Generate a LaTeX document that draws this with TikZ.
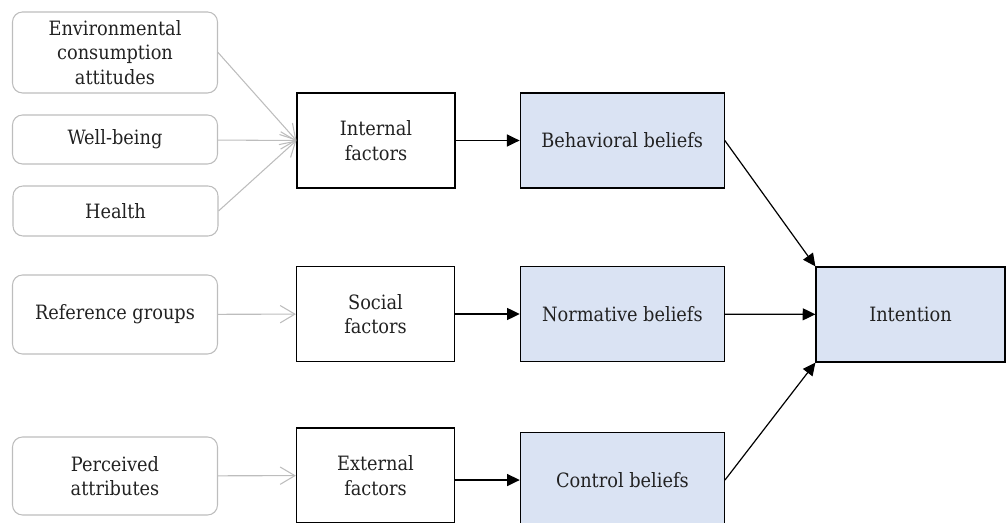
\documentclass[tikz,border=0pt]{standalone}
\usepackage{fontspec}
\setmainfont{DejaVu Serif Condensed}
\usetikzlibrary{arrows.meta, positioning}

\definecolor{beliefblue}{HTML}{DAE3F3}
\definecolor{srcgray}{HTML}{BDBDBD}
\definecolor{txtgray}{HTML}{222222}

\begin{document}
\begin{tikzpicture}[x=0.75pt, y=-0.75pt,
  font=\fontsize{14.8}{18.4}\selectfont, text=txtgray,
  src/.style={draw=srcgray, line width=0.8pt, rounded corners=7.5pt, align=center,
    inner sep=0pt, minimum width=153.75pt},
  factor/.style={draw, line width=0.9pt, fill=white, align=center, inner sep=0pt,
    minimum width=118.5pt, minimum height=71.25pt},
  belief/.style={draw, line width=0.9pt, fill=beliefblue, align=center, inner sep=0pt,
    minimum width=153pt, minimum height=71.25pt},
  garrow/.style={draw=srcgray, line width=0.8pt, -{Straight Barb[length=11pt, width=13pt]}},
  barrow/.style={line width=0.9pt, -{Triangle[length=9.5pt, width=9pt]}}]
\useasboundingbox (0,0) rectangle (1006,523);
\clip (0,0) rectangle (1006,523);

% sources
\node[src, minimum height=60.75pt] (env) at (115,52.5) {Environmental\\consumption\\attitudes};
\node[src, minimum height=36.75pt] (well) at (115,139.5) {Well-being};
\node[src, minimum height=37.5pt] (health) at (115.5,211) {Health};
\node[src, minimum height=59.25pt] (ref) at (115,314.5) {Reference groups};
\node[src, minimum height=58.5pt] (perc) at (115,476) {Perceived\\attributes};

% factors
\node[factor] (internal) at (376,140.5) {Internal\\factors};
\node[factor] (social) at (375.5,314) {Social\\factors};
\node[factor] (external) at (375.5,475.5) {External\\factors};

% beliefs
\node[belief, right=48pt of internal] (behav) {Behavioral beliefs};
\node[belief, right=48.5pt of social] (norm) {Normative beliefs};
\node[belief, right=48.5pt of external, yshift=-3.4pt] (control) {Control beliefs};
\node[belief, minimum width=141.75pt] (intent) at (910.5,314.5) {Intention};

\draw[garrow] (env.east) -- (internal.west);
\draw[garrow] (well) -- (internal.west);
\draw[garrow] (health.east) -- (internal.west);
\draw[garrow] (ref) -- (social);
\draw[garrow] (perc) -- (external);

\draw[barrow] (internal) -- (behav);
\draw[barrow] (social) -- (norm);
\draw[barrow] (control.west -| external.east) -- (control.west);

\draw[barrow] (behav.east) -- (intent.north west);
\draw[barrow] (norm) -- (intent);
\draw[barrow] (control.east) -- (intent.south west);
\end{tikzpicture}
\end{document}
